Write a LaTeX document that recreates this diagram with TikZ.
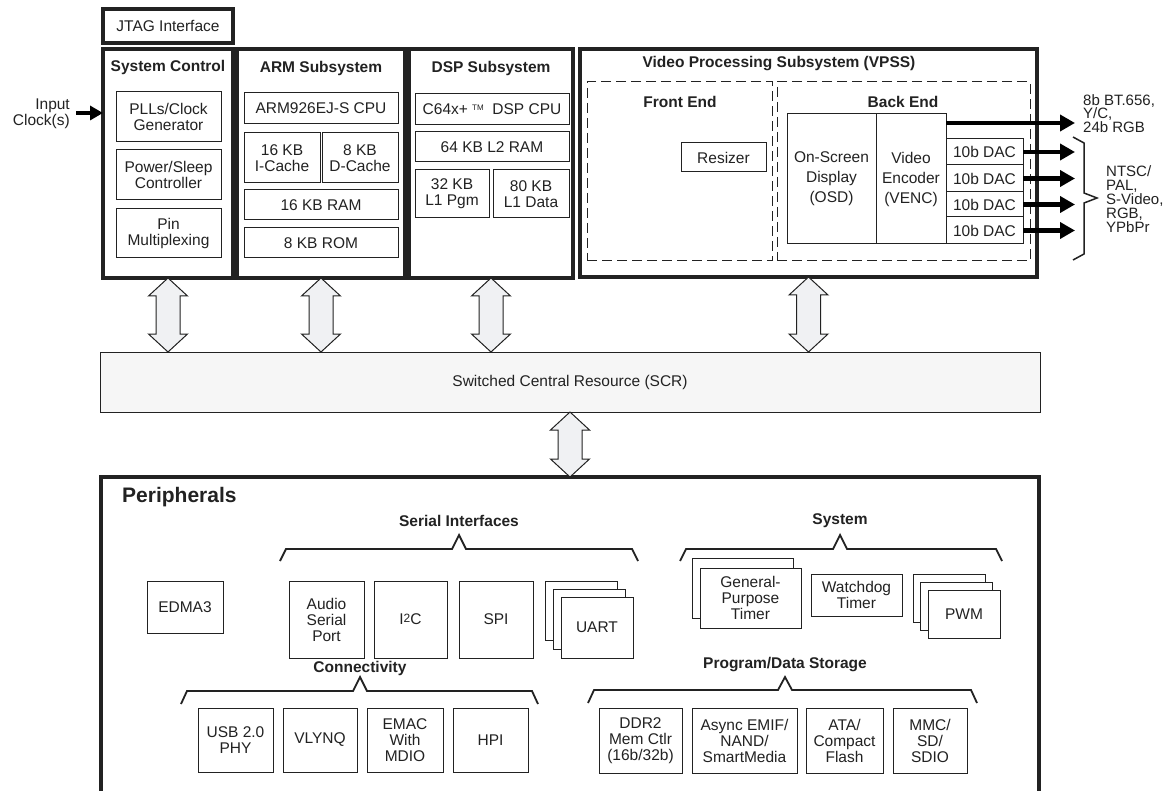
\documentclass[tikz,border=0pt]{standalone}
\usepackage{fontspec}
\setmainfont{Liberation Sans}
\usetikzlibrary{arrows.meta,calc}
\definecolor{ln}{HTML}{222222}
\definecolor{arrfill}{HTML}{F0F1F3}
\definecolor{scrfill}{HTML}{F6F6F6}
\newcommand\fs{\fontsize{15.5}{16}\selectfont}
\newcommand\bx[7][]{\node[ibox,#1,minimum width={(#5-#3)*1pt},minimum height={(#6-#4)*1pt}] (#2) at ({(#3+#5)/2},{(#4+#6)/2}) {#7};}
\newcommand\dbl[2]{\draw[dblarr] let \p1=(#1), \p2=(#2) in (\x1,\y1) -- ++(19.5pt,-18pt) -- ++(-7.5pt,0pt) -- (\x1+12pt,\y2+18pt) -- ++(7.5pt,0pt) -- (\x1,\y2) -- ++(-19.5pt,18pt) -- ++(7.5pt,0pt) -- (\x1-12pt,\y1-18pt) -- ++(-7.5pt,0pt) -- cycle;}
\begin{document}
\begin{tikzpicture}[x=1pt,y=-1pt,
 ibox/.style={draw=ln,line width=1pt,inner sep=0pt,outer sep=0pt,align=center,font=\fs,fill=white,text=ln},
 tbox/.style={line width=3.5pt,fill=none},
 dbox/.style={dash pattern=on 10pt off 5pt,fill=none},
 ttl/.style={font=\fs\bfseries,inner sep=0pt,text=ln},
 lbl/.style={inner sep=0pt,text=ln},
 thk/.style={line width=4.5pt,draw=black,-{Triangle[length=15pt,width=16pt]}},
 brk/.style={draw=ln,line width=1.8pt,line join=miter},
 dblarr/.style={draw=ln,line width=1pt,fill=arrfill}]
\useasboundingbox (0,0) rectangle (1169,791);
\fill[white] (0,0) rectangle (1169,791);
% top row
\bx[tbox]{jtag}{103}{9}{233}{43}{JTAG Interface}
\bx[tbox]{sc}{103}{49}{233}{278}{}
\node[ttl] (sct) at (168,67) {System Control};
\bx{pll}{116}{92}{221}{142}{PLLs/Clock\\Generator}
\bx{pwr}{116}{150}{221}{200}{Power/Sleep\\Controller}
\bx{pin}{116}{209}{221}{258}{Pin\\Multiplexing}
\bx[tbox]{arm}{237}{49}{405}{278}{}
\node[ttl] (armt) at (321,68) {ARM Subsystem};
\bx{armcpu}{244}{93}{398}{124}{ARM926EJ-S CPU}
\bx{icache}{244}{133}{320}{183}{16 KB\\I-Cache}
\bx{dcache}{322}{133}{398}{183}{8 KB\\D-Cache}
\bx{aram}{244}{190}{398}{220}{16 KB RAM}
\bx{arom}{244}{228}{398}{258}{8 KB ROM}
\bx[tbox]{dsp}{409}{49}{573}{278}{}
\node[ttl] (dspt) at (491,68) {DSP Subsystem};
\bx{dspcpu}{415}{94}{569}{125}{C64x+\ \raisebox{4pt}{\fontsize{8}{8}\selectfont TM}\ \ DSP CPU}
\bx{l2}{415}{132}{569}{162}{64 KB L2 RAM}
\bx{l1p}{415}{170}{489}{218}{32 KB\\L1 Pgm}
\bx{l1d}{493}{170}{569}{218}{80 KB\\L1 Data}
\bx[tbox]{vpss}{580}{49}{1037}{277}{}
\node[ttl] (vpsst) at (779,64) {Video Processing Subsystem (VPSS)};
\bx[dbox]{fe}{587}{82}{772}{261}{}
\bx[dbox]{be}{777}{82}{1030}{261}{}
\node[ttl] (fet) at (680,102) {Front End};
\node[ttl] (bet) at (903,102) {Back End};
\bx{rsz}{681}{143}{766}{172}{Resizer}
\bx[font=\fontsize{15.5}{20}\selectfont]{osd}{787}{114}{876}{244}{On-Screen\\Display\\(OSD)}
\bx[font=\fontsize{15.5}{20}\selectfont]{venc}{876}{114}{946}{244}{Video\\Encoder\\(VENC)}
\bx{dac1}{946}{139}{1023}{165}{10b DAC}
\bx{dac2}{946}{165}{1023}{192}{10b DAC}
\bx{dac3}{946}{192}{1023}{217}{10b DAC}
\bx{dac4}{946}{217}{1023}{244}{10b DAC}
\coordinate (vin) at (946,123);
\coordinate (vo) at (1075,123);
\draw[thk] (vin) -- (vo);
\draw[thk] (dac1.east) -- (dac1.east -| vo);
\draw[thk] (dac2.east) -- (dac2.east -| vo);
\draw[thk] (dac3.east) -- (dac3.east -| vo);
\draw[thk] (dac4.east) -- (dac4.east -| vo);
\node[lbl,align=left,anchor=north west,font=\fontsize{15}{13.5}\selectfont] (o1) at (1083,94) {8b BT.656,\\Y/C,\\24b RGB};
\draw[draw=ln,line width=1.5pt] (1073,137) -- (1084,143) -- (1084,193) -- (1097,198) -- (1084,203) -- (1084,254) -- (1073,260);
\node[lbl,align=left,anchor=west,font=\fontsize{15}{14}\selectfont] (o2) at (1106,199) {NTSC/\\PAL,\\S-Video,\\RGB,\\YPbPr};
\node[lbl,align=right,anchor=east,font=\fs] (inclk) at (70,114) {Input\\Clock(s)};
\draw[thk,line width=4pt,-{Triangle[length=13pt,width=14pt]}] ([xshift=6pt,yshift=1pt]inclk.east) -- ([yshift=1pt]inclk.east -| sc.west);
% SCR
\bx[fill=scrfill,line width=0.8pt]{scr}{100}{352}{1040}{412}{Switched Central Resource (SCR)}
\bx[tbox]{per}{101}{477}{1039}{820}{}
\dbl{sc.south}{sc.south |- scr.north}
\dbl{arm.south}{arm.south |- scr.north}
\dbl{dsp.south}{dsp.south |- scr.north}
\dbl{vpss.south}{vpss.south |- scr.north}
\dbl{scr.south}{scr.south |- per.north}
% peripherals
\node[ttl,font=\fontsize{21}{21}\selectfont\bfseries,anchor=west] (pert) at (122,497) {Peripherals};
\bx{edma}{147}{581}{223}{633}{EDMA3}
\node[ttl] (sit) at (459,521) {Serial Interfaces};
\draw[brk] (280,561) -- (286,549) -- (452,549) -- (459,535) -- (466,549) -- (632,549) -- (638,561);
\bx{asp}{289}{581}{364}{658}{Audio\\Serial\\Port}
\bx{i2c}{374}{581}{447}{658}{I\raisebox{2pt}{\fontsize{12}{12}\selectfont 2}C}
\bx{spi}{459}{581}{533}{658}{SPI}
\bx{uart3}{545}{581}{617}{640}{}
\bx{uart2}{553}{589}{625}{649}{}
\bx{uart}{561}{597}{633}{658}{UART}
\node[ttl] (syst) at (840,521) {System};
\draw[brk] (680,561) -- (686,549) -- (833,549) -- (840,535) -- (847,549) -- (996,549) -- (1002,561);
\bx{gpt2}{692}{558}{793}{618}{}
\bx{gpt}{700}{568}{801}{628}{General-\\Purpose\\Timer}
\bx{wdt}{811}{574}{902}{616}{Watchdog\\Timer}
\bx{pwm3}{913}{574}{985}{622}{}
\bx{pwm2}{920}{582}{992}{630}{}
\bx{pwm}{928}{590}{1000}{638}{PWM}
\node[ttl] (cont) at (360,668) {Connectivity};
\draw[brk] (181,704) -- (187,691) -- (353,691) -- (360,677) -- (367,691) -- (532,691) -- (538,704);
\bx{usb}{198}{708}{273}{772}{USB 2.0\\PHY}
\bx{vlynq}{283}{708}{357}{772}{VLYNQ}
\bx{emac}{367}{708}{443}{772}{EMAC\\With\\MDIO}
\bx{hpi}{453}{708}{528}{772}{HPI}
\node[ttl] (pdst) at (785,665) {Program/Data Storage};
\draw[brk] (588,703) -- (594,690) -- (778,690) -- (785,677) -- (792,690) -- (971,690) -- (977,703);
\bx{ddr}{599}{708}{682}{773}{DDR2\\Mem Ctlr\\(16b/32b)}
\bx{emif}{692}{708}{797}{773}{Async EMIF/\\NAND/\\SmartMedia}
\bx{ata}{806}{708}{883}{773}{ATA/\\Compact\\Flash}
\bx{mmc}{893}{708}{967}{773}{MMC/\\SD/\\SDIO}
\end{tikzpicture}
\end{document}
